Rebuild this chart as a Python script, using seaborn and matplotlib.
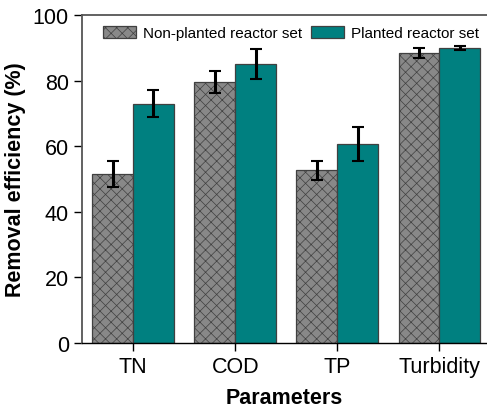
import matplotlib
matplotlib.use("Agg")
import matplotlib.pyplot as plt
import seaborn as sns
import pandas as pd
import numpy as np

categories = ["TN", "COD", "TP", "Turbidity"]
series = ["Non-planted reactor set", "Planted reactor set"]
nonplanted = [51.6, 79.5, 52.6, 88.4]
nonplanted_err = [4.0, 3.4, 3.0, 1.4]
planted = [73.0, 85.0, 60.6, 90.0]
planted_err = [4.2, 4.5, 5.2, 0.7]
yticks = [0, 20, 40, 60, 80, 100]

sns.set_style("ticks")
plt.rcParams['font.family'] = ['Liberation Sans', 'DejaVu Sans']
plt.rcParams['hatch.linewidth'] = 0.5
plt.rcParams['text.color'] = 'black'
plt.rcParams['axes.labelcolor'] = 'black'

df = pd.DataFrame({
    "Parameter": categories * 2,
    "Series": [series[0]] * 4 + [series[1]] * 4,
    "Value": nonplanted + planted,
})

fig = plt.figure(figsize=(4.87, 4.10), dpi=100)
ax = fig.add_axes([82/487, 1 - 344/410, (487 - 82)/487 + 0.001, (344 - 16)/410])

sns.barplot(data=df, x="Parameter", y="Value", hue="Series",
            palette=["#888888", "#008080"], errorbar=None, width=0.8,
            edgecolor="#404040", linewidth=0.9, ax=ax, saturation=1)

for i, (vals, errs) in enumerate([(nonplanted, nonplanted_err), (planted, planted_err)]):
    cont = ax.containers[i]
    xs = [p.get_x() + p.get_width() / 2 for p in cont.patches]
    if i == 0:
        for p in cont.patches:
            p.set_hatch("xxx")
    ax.errorbar(xs, vals, yerr=errs, fmt="none", ecolor="black",
                elinewidth=2.2, capsize=4, capthick=1.5, zorder=5)

ax.set_xlim(-0.5, 3.47)
ax.set_ylim(0, 100)
ax.set_yticks(yticks)
ax.set_xlabel("Parameters", fontsize=15.5, fontweight="bold", labelpad=7)
ax.set_ylabel("Removal efficiency (%)", fontsize=15.5, fontweight="bold", labelpad=5)
ax.tick_params(axis="both", labelsize=15.5, direction="out", length=6, width=1.0,
               colors="black", labelcolor="black")
for s in ["left", "top"]:
    ax.spines[s].set_color("#555555")
    ax.spines[s].set_linewidth(1.3)
ax.spines["bottom"].set_color("black")
ax.spines["bottom"].set_linewidth(1.0)
ax.spines["right"].set_visible(False)

h, l = ax.get_legend_handles_labels()
leg = ax.legend(h, l, loc="upper left", bbox_to_anchor=(0.025, 1.0), ncol=2, frameon=False,
                fontsize=11, handlelength=2.2, handleheight=0.9, columnspacing=0.6,
                handletextpad=0.4, borderaxespad=0.3)
leg.legend_handles[0].set_hatch("xxx")

fig.savefig("out.png", dpi=100)
